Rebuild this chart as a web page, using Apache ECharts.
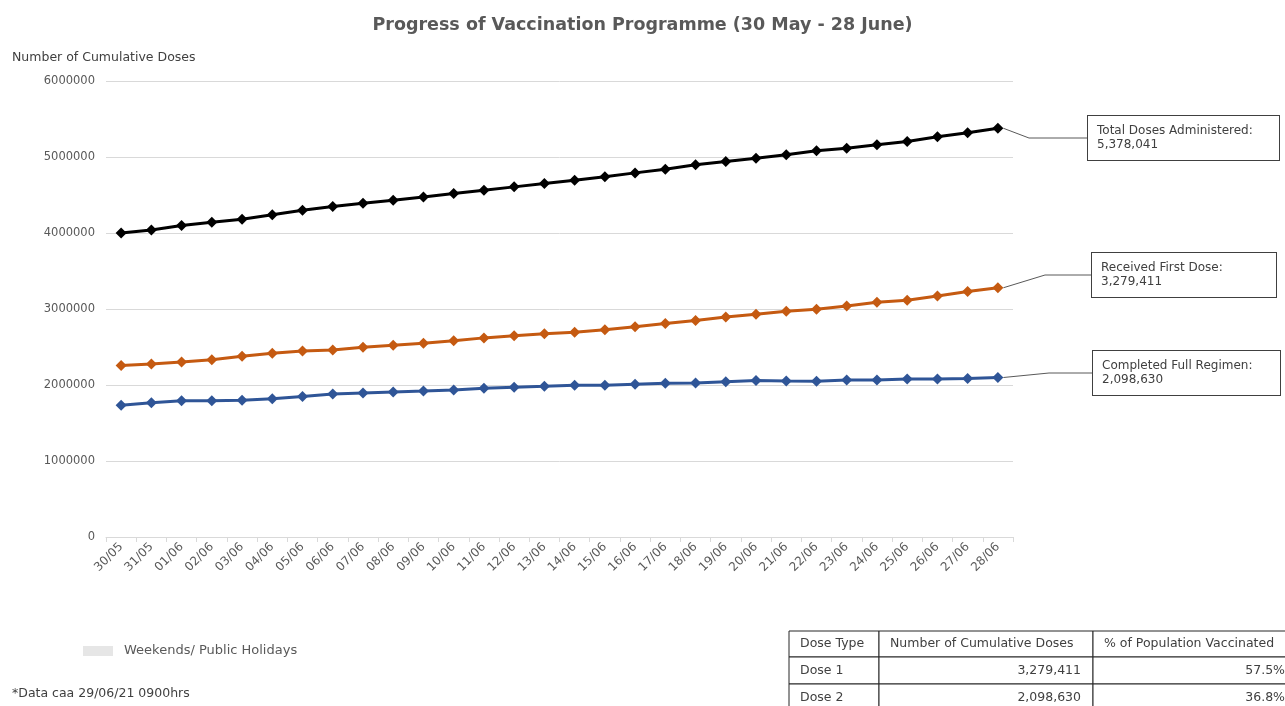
<!DOCTYPE html>
<html>
<head>
<meta charset="utf-8">
<script src="https://cdn.jsdelivr.net/npm/echarts@6/dist/echarts.min.js"></script>
<style>
  html, body { margin: 0; padding: 0; background: #fff; }
  #chart { width: 1285px; height: 706px; }
</style>
</head>
<body>
<div id="chart"></div>
<script>
// dates on the x axis
const days = ['30/05', '31/05', '01/06', '02/06', '03/06', '04/06', '05/06', '06/06', '07/06', '08/06',
  '09/06', '10/06', '11/06', '12/06', '13/06', '14/06', '15/06', '16/06', '17/06', '18/06',
  '19/06', '20/06', '21/06', '22/06', '23/06', '24/06', '25/06', '26/06', '27/06', '28/06'];

// cumulative doses
const totalDoses = [4000000, 4040000, 4100000, 4140000, 4180000, 4240000, 4300000, 4350000, 4390000, 4430000,
  4475000, 4519000, 4563000, 4607000, 4651000, 4695000, 4739000, 4791000, 4840000, 4897000,
  4941000, 4985000, 5029000, 5081000, 5116000, 5160000, 5204000, 5266000, 5319000, 5378041];
const firstDose = [2258000, 2276000, 2302000, 2333000, 2377000, 2417000, 2448000, 2461000, 2497000, 2523000,
  2550000, 2581000, 2620000, 2647000, 2673000, 2695000, 2726000, 2765000, 2810000, 2850000,
  2894000, 2930000, 2970000, 2996000, 3040000, 3088000, 3115000, 3170000, 3230000, 3279411];
const fullRegimen = [1735000, 1766000, 1792000, 1792000, 1800000, 1820000, 1850000, 1880000, 1894000, 1907000,
  1920000, 1934000, 1956000, 1969000, 1982000, 1998000, 1996000, 2009000, 2022000, 2027000,
  2044000, 2058000, 2053000, 2049000, 2066000, 2066000, 2080000, 2080000, 2084000, 2098630];

const yTicks = [0, 1000000, 2000000, 3000000, 4000000, 5000000, 6000000];

// summary table
const tableHeader = ['Dose Type', 'Number of Cumulative Doses', '% of Population Vaccinated'];
const tableRows = [
  ['Dose 1', '3,279,411', '57.5%'],
  ['Dose 2', '2,098,630', '36.8%'],
];

const FONT = '"DejaVu Sans", sans-serif';
const last = days.length - 1;

function makeSeries(name, values, color, box) {
  // only the last point gets the callout box
  const data = values.map((v, i) => {
    if (i !== last) return v;
    return {
      value: v,
      label: {
        show: true,
        formatter: name + ':\n' + v.toLocaleString('en-US'),
      },
      labelLine: { show: true },
    };
  });
  return {
    name: name,
    type: 'line',
    data: data,
    symbol: 'diamond',
    symbolSize: 11,
    lineStyle: { color: color, width: 3 },
    itemStyle: { color: color },
    label: {
      show: false,
      fontFamily: FONT,
      fontSize: 12,
      color: '#404040',
      lineHeight: 14,
      align: 'left',
      backgroundColor: '#fff',
      borderColor: '#404040',
      borderWidth: 1,
      padding: [8, 9],
      width: box.w - 18,
    },
    labelLayout: (p) => {
      if (p.dataIndex !== last) return {};
      return { x: box.x, y: box.y, align: 'left', verticalAlign: 'top' };
    },
    labelLine: { show: false, length2: box.elbow, minTurnAngle: 0, lineStyle: { color: '#595959', width: 1 } },
    z: 3,
  };
}

const chart = echarts.init(document.getElementById('chart'));

// table graphics
const colX = [789, 879, 1093, 1300];
const rowY = [631, 657, 684, 711];
const tableGraphics = [];
for (let r = 0; r < 3; r += 1) {
  const cells = r === 0 ? tableHeader : tableRows[r - 1];
  for (let c = 0; c < 3; c += 1) {
    tableGraphics.push({
      type: 'rect',
      shape: { x: colX[c], y: rowY[r], width: colX[c + 1] - colX[c], height: rowY[r + 1] - rowY[r] },
      style: { fill: '#fff', stroke: '#262626', lineWidth: 1 },
    });
    const right = r > 0 && c > 0;
    tableGraphics.push({
      type: 'text',
      x: right ? colX[c + 1] - (c === 2 ? 15 : 12) : colX[c] + 11,
      y: (rowY[r] + rowY[r + 1]) / 2,
      style: {
        text: cells[c],
        font: '12.5px ' + FONT,
        fill: '#404040',
        align: right ? 'right' : 'left',
        verticalAlign: 'middle',
      },
    });
  }
}

const option = {
  animation: false,
  backgroundColor: '#fff',
  textStyle: { fontFamily: FONT },
  title: {
    text: 'Progress of Vaccination Programme (30 May - 28 June)',
    left: 'center',
    top: 11,
    textStyle: { fontFamily: FONT, fontSize: 17.5, fontWeight: 'bold', color: '#595959' },
  },
  grid: { left: 106, right: 272, top: 81, bottom: 169 },
  xAxis: {
    type: 'category',
    data: days,
    boundaryGap: true,
    axisLine: { lineStyle: { color: '#d9d9d9' } },
    axisTick: { show: true, length: 5, lineStyle: { color: '#d9d9d9' } },
    axisLabel: { rotate: 45, color: '#595959', fontSize: 12, fontFamily: FONT, margin: 8, interval: 0 },
  },
  yAxis: {
    type: 'value',
    min: yTicks[0],
    max: yTicks[yTicks.length - 1],
    interval: yTicks[1] - yTicks[0],
    name: 'Number of Cumulative Doses',
    nameLocation: 'end',
    nameGap: 17,
    nameTextStyle: { color: '#404040', fontSize: 12.5, fontFamily: FONT, align: 'left', padding: [0, 0, 0, -94] },
    axisLine: { show: false },
    axisTick: { show: false },
    splitLine: { lineStyle: { color: '#d9d9d9' } },
    axisLabel: { color: '#595959', fontSize: 11.5, fontFamily: FONT, margin: 11, formatter: (v) => String(v) },
  },
  series: [
    makeSeries('Total Doses Administered', totalDoses, '#000000', { x: 1088, y: 116, w: 191, elbow: 58 }),
    makeSeries('Received First Dose', firstDose, '#C55A11', { x: 1092, y: 253, w: 184, elbow: 46 }),
    makeSeries('Completed Full Regimen', fullRegimen, '#2F5597', { x: 1093, y: 351, w: 187, elbow: 43 }),
  ],
  graphic: [
    { type: 'rect', shape: { x: 83, y: 646, width: 30, height: 10 }, style: { fill: '#e6e6e6' } },
    { type: 'text', x: 124, y: 651, style: { text: 'Weekends/ Public Holidays', font: '13px ' + FONT, fill: '#595959', verticalAlign: 'middle' } },
    { type: 'text', x: 12, y: 694, style: { text: '*Data caa 29/06/21 0900hrs', font: '12.5px ' + FONT, fill: '#404040', verticalAlign: 'middle' } },
  ].concat(tableGraphics),
};

chart.setOption(option);
</script>
</body>
</html>
